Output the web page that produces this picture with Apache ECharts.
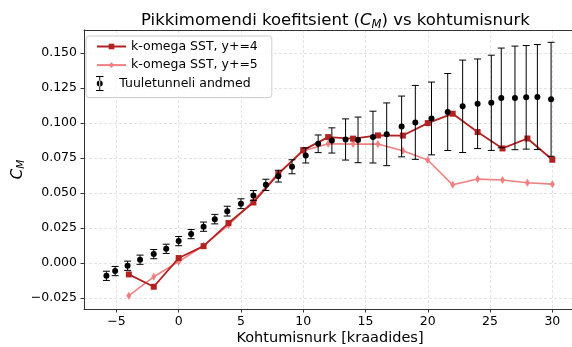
<!DOCTYPE html>
<html>
<head>
<meta charset="utf-8">
<script src="https://cdn.jsdelivr.net/npm/echarts@6/dist/echarts.min.js"></script>
<style>
html, body { margin: 0; padding: 0; background: #fff; }
#main { width: 572px; height: 347px; }
</style>
</head>
<body>
<div id="main"></div>
<script>
// tuuletunneli mõõtmised (nurk, CM, viga)
const windX = [-5.8, -5.1, -4.1, -3.1, -2.0, -1.0, 0.0, 1.0, 2.0, 2.9, 3.9, 5.0, 6.0, 7.0, 8.0, 9.1, 10.2, 11.2, 12.3, 13.4, 14.4, 15.6, 16.7, 17.9, 19.0, 20.3, 21.6, 22.8, 24.0, 25.1, 25.9, 27.0, 27.9, 28.8, 29.9]
const windY = [-0.0091, -0.0057, -0.0019, 0.0024, 0.0064, 0.0102, 0.0157, 0.0207, 0.026, 0.0314, 0.0371, 0.0424, 0.0483, 0.0559, 0.0621, 0.0688, 0.0769, 0.0852, 0.0876, 0.0883, 0.088, 0.090, 0.092, 0.0976, 0.1005, 0.1033, 0.1079, 0.112, 0.1138, 0.1145, 0.118, 0.118, 0.1184, 0.1186, 0.117]
const windErr = [0.0033, 0.0033, 0.0033, 0.0033, 0.0033, 0.0033, 0.0033, 0.0033, 0.0033, 0.0034, 0.0035, 0.0035, 0.0035, 0.004, 0.0042, 0.005, 0.0054, 0.0063, 0.009, 0.0147, 0.0163, 0.0185, 0.0224, 0.0217, 0.0264, 0.026, 0.0275, 0.033, 0.032, 0.034, 0.0356, 0.037, 0.037, 0.0375, 0.0407]

// CFD tulemused
const cfdX = [-4, -2, 0, 2, 4, 6, 8, 10, 12, 14, 16, 18, 20, 22, 24, 26, 28, 30]
const yplus4 = [-0.0081, -0.0169, 0.0036, 0.0121, 0.0286, 0.0433, 0.0636, 0.0807, 0.090, 0.0889, 0.0912, 0.0911, 0.100, 0.1067, 0.0936, 0.0819, 0.089, 0.0738]
const yplus5 = [-0.0233, -0.0098, 0.0010, 0.0124, 0.0271, 0.0445, 0.0643, 0.080, 0.0852, 0.085, 0.085, 0.0802, 0.0736, 0.0559, 0.060, 0.0593, 0.0574, 0.0564]

const xTicks = [-5, 0, 5, 10, 15, 20, 25, 30]
const yTicks = [-0.025, 0, 0.025, 0.05, 0.075, 0.1, 0.125, 0.15]

const names = ['k-omega SST, y+=4', 'k-omega SST, y+=5', 'Tuuletunneli andmed']
const font = 'DejaVu Sans'
const xMin = -7.6, xMax = 31.9

const myChart = echarts.init(document.getElementById('main'))

const minus = s => String(s).replace('-', '\u2212')

function renderErr(params, api) {
    const x = api.value(0), y = api.value(1), e = api.value(2)
    const top = api.coord([x, y + e]), bot = api.coord([x, y - e])
    const style = { stroke: '#000', lineWidth: 1 }
    return {
        type: 'group',
        children: [
            { type: 'line', shape: { x1: top[0], y1: top[1], x2: bot[0], y2: bot[1] }, style: style },
            { type: 'line', shape: { x1: top[0] - 3.5, y1: top[1], x2: top[0] + 3.5, y2: top[1] }, style: style },
            { type: 'line', shape: { x1: bot[0] - 3.5, y1: bot[1], x2: bot[0] + 3.5, y2: bot[1] }, style: style }
        ]
    }
}

const gridLine = { show: true, lineStyle: { color: '#dcdcdc', type: [3, 2], width: 0.8 } }
const legendText = { fontFamily: font, fontSize: 12.5, color: '#000' }

let option = {
    animation: false,
    textStyle: { fontFamily: font },
    title: {
        text: '{a|Pikkimomendi koefitsient (}{i|C}{s|M}{a|) vs kohtumisnurk}',
        left: 136,
        top: 6,
        textStyle: {
            fontWeight: 'normal',
            rich: {
                a: { fontFamily: font, fontSize: 16.5, fontWeight: 'normal', color: '#000' },
                i: { fontFamily: font, fontSize: 16.5, fontWeight: 'normal', fontStyle: 'italic', color: '#000' },
                s: { fontFamily: font, fontSize: 11.5, fontWeight: 'normal', fontStyle: 'italic', color: '#000', padding: [8, 0, 0, 0] }
            }
        }
    },
    // kaks legendi: joonte oma (kastiga) ja mõõtmiste oma
    legend: [{
        orient: 'vertical',
        left: 86,
        top: 36,
        padding: [4, 14, 26, 10],
        itemWidth: 29,
        itemHeight: 7,
        itemGap: 5.6,
        borderColor: '#cccccc',
        borderWidth: 1,
        borderRadius: 3,
        backgroundColor: 'rgba(255,255,255,0.8)',
        textStyle: legendText,
        data: [names[0], names[1]]
    }, {
        orient: 'vertical',
        left: 86,
        top: 76,
        padding: [0, 8, 0, 10],
        itemWidth: 29,
        itemHeight: 15,
        textStyle: legendText,
        data: [{ name: names[2], icon: 'path://M0 0H8V1H0Z M3.5 0H4.5V16H3.5Z M0 15H8V16H0Z M0.8 8A3.2 3.2 0 1 0 7.2 8A3.2 3.2 0 1 0 0.8 8Z' }]
    }],
    grid: {
        left: 84,
        right: -4,
        top: 30,
        bottom: 38,
        outerBoundsMode: 'none'
    },
    xAxis: [{
        type: 'value',
        min: xMin,
        max: xMax,
        splitNumber: 8,
        name: 'Kohtumisnurk [kraadides]',
        nameLocation: 'middle',
        nameGap: 22,
        nameMoveOverlap: false,
        nameTextStyle: { fontFamily: font, fontSize: 14.5, color: '#000' },
        axisLine: { onZero: false, lineStyle: { color: '#333', width: 1 } },
        axisTick: { show: true, length: 3.5, customValues: xTicks, lineStyle: { color: '#333' } },
        axisLabel: { customValues: xTicks, fontSize: 12.5, color: '#000', margin: 6, formatter: v => minus(v) },
        splitLine: gridLine
    }, {
        // ülemine raamijoon
        type: 'value',
        position: 'top',
        min: xMin,
        max: xMax,
        axisLine: { show: true, onZero: false, lineStyle: { color: '#333', width: 1 } },
        axisTick: { show: false },
        axisLabel: { show: false },
        splitLine: { show: false }
    }],
    yAxis: {
        type: 'value',
        min: -0.0328,
        max: 0.1665,
        splitNumber: 8,
        name: '{i|C}{s|M}',
        nameLocation: 'middle',
        nameGap: 57,
        nameMoveOverlap: false,
        nameTextStyle: {
            rich: {
                i: { fontFamily: font, fontSize: 15, fontStyle: 'italic', color: '#000' },
                s: { fontFamily: font, fontSize: 10.5, fontStyle: 'italic', color: '#000', padding: [7, 0, 0, 0] }
            }
        },
        axisLine: { show: true, onZero: false, lineStyle: { color: '#333', width: 1 } },
        axisTick: { show: true, length: 3.5, customValues: yTicks, lineStyle: { color: '#333' } },
        axisLabel: { customValues: yTicks, fontSize: 12.5, color: '#000', margin: 7, formatter: v => minus(v.toFixed(3)) },
        splitLine: gridLine
    },
    series: [{
        name: names[0],
        type: 'line',
        data: cfdX.map((x, i) => [x, yplus4[i]]),
        symbol: 'rect',
        symbolSize: 6,
        itemStyle: { color: '#b22222' },
        lineStyle: { color: '#b22222', width: 1.8 },
        z: 3
    }, {
        name: names[1],
        type: 'line',
        data: cfdX.map((x, i) => [x, yplus5[i]]),
        symbol: 'diamond',
        symbolSize: [5, 8],
        itemStyle: { color: '#f08080' },
        lineStyle: { color: '#f08080', width: 1.6 },
        z: 2
    }, {
        name: names[2],
        type: 'custom',
        data: windX.map((x, i) => [x, windY[i], windErr[i]]),
        renderItem: renderErr,
        itemStyle: { color: '#000' },
        z: 4
    }, {
        name: names[2],
        type: 'scatter',
        data: windX.map((x, i) => [x, windY[i]]),
        symbol: 'circle',
        symbolSize: 6,
        itemStyle: { color: '#000', opacity: 1 },
        z: 5
    }]
}

myChart.setOption(option)
</script>
</body>
</html>
